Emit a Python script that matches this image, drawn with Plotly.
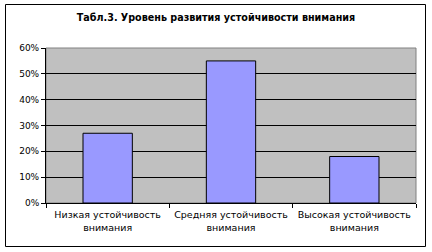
import plotly.graph_objects as go

categories = ["Низкая устойчивость<br>внимания", "Средняя устойчивость<br>внимания", "Высокая устойчивость<br>внимания"]
values = [0.27, 0.55, 0.18]
title_text = "Табл.3. Уровень развития устойчивости внимания"

W, H = 432, 252
L, R, T, B = 46, 16, 48, 49
pw, ph = W - L - R, H - T - B

def px_x(x):
    return (x - L) / pw

def px_y(y):
    return (H - B - y) / ph

fig = go.Figure()
fig.add_trace(go.Bar(
    x=categories, y=values, width=0.4,
    marker=dict(color="#9999FF", line=dict(color="black", width=1)),
))

fig.update_layout(
    width=W, height=H,
    margin=dict(l=L, r=R, t=T, b=B, autoexpand=False),
    paper_bgcolor="white", plot_bgcolor="#C0C0C0",
    showlegend=False,
    font=dict(family="DejaVu Sans", size=9, color="black"),
    title=dict(text="<b>" + title_text + "</b>", x=0.5, xanchor="center",
               y=1 - 18 / H, yanchor="middle", font=dict(size=9.6)),
    bargap=0.6,
)
fig.update_xaxes(
    showline=True, linecolor="black", linewidth=1,
    ticks="outside", tickson="boundaries", ticklen=4, tickcolor="black",
    showgrid=False, tickfont=dict(size=9.5), tickangle=0, automargin=False,
    ticklabelstandoff=3,
)
fig.update_yaxes(
    range=[0, 0.6], dtick=0.1, tickformat=".0%",
    showline=True, linecolor="black", linewidth=1,
    ticks="outside", ticklen=4, tickcolor="black",
    showgrid=True, gridcolor="black", gridwidth=1,
    zeroline=False, tickfont=dict(size=9), automargin=False,
)
# plot area border (gray)
fig.add_shape(type="rect", xref="paper", yref="paper", x0=0, x1=1, y0=0, y1=1,
              line=dict(color="#808080", width=1), layer="below")
# outer chart border
fig.add_shape(type="rect", xref="paper", yref="paper",
              x0=px_x(5.5), x1=px_x(425.5), y0=px_y(246.5), y1=px_y(4.5),
              line=dict(color="black", width=1))

fig.write_html("out.html")
